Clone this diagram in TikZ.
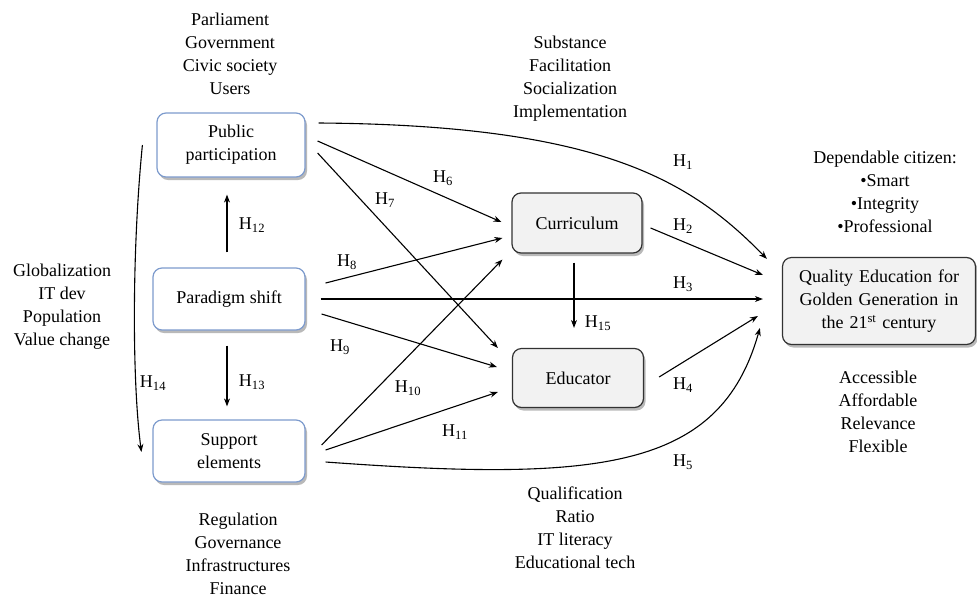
\documentclass[tikz,border=0pt]{standalone}
\usepackage{fontspec}
\setmainfont{Liberation Serif}
\usetikzlibrary{arrows.meta,shadows,calc}
\definecolor{bluebd}{RGB}{125,155,205}
\definecolor{grayfill}{RGB}{242,242,242}
\definecolor{graybd}{RGB}{50,50,50}
\begin{document}
\begin{tikzpicture}[x=1pt,y=-1pt,
  txt/.style={font=\fontsize{18}{23}\selectfont, align=center, inner sep=0pt},
  bbox/.style={draw=bluebd, line width=1.2pt, fill=white, rounded corners=9pt,
    align=center, font=\fontsize{18}{23}\selectfont, inner sep=2pt,
    drop shadow={shadow xshift=2pt, shadow yshift=-3pt, fill=black!50, opacity=0.55}},
  gbox/.style={draw=graybd, line width=1.2pt, fill=grayfill, rounded corners=9pt,
    align=center, font=\fontsize{18}{23}\selectfont, inner sep=2pt,
    drop shadow={shadow xshift=2pt, shadow yshift=-3pt, fill=black!50, opacity=0.55}},
  arr/.style={-{Stealth[length=8pt,width=6pt]}, line width=1.1pt},
  hl/.style={font=\fontsize{18}{23}\selectfont, inner sep=0pt}
]
\useasboundingbox (0,0) rectangle (977,598);

% boxes
\node[bbox, minimum width=148, minimum height=64] (pp) at (231,145) {Public\\participation};
\node[bbox, minimum width=152, minimum height=62] (ps) at (229,299) {Paradigm\ shift};
\node[bbox, minimum width=152, minimum height=62] (se) at (229,451) {Support\\elements};
\node[gbox, minimum width=130, minimum height=60] (cur) at (577,223) {Curriculum};
\node[gbox, minimum width=131, minimum height=59] (edu) at (578,378) {Educator};
\node[gbox, minimum width=193, minimum height=87, text width=180] (qe) at (879,301)
  {Quality Education for\\Golden Generation in\\the 21\textsuperscript{st} century};

% text blocks
\node[txt] (t1) at (230,54) {Parliament\\Government\\Civic society\\Users};
\node[txt] (t2) at (570,79) {Substance\\Facilitation\\Socialization\\Implementation};
\node[txt] (t3) at (885,192) {Dependable citizen:\\\textbullet Smart\\\textbullet Integrity\\\textbullet Professional};
\node[txt] (t4) at (878,412) {Accessible\\Affordable\\Relevance\\Flexible};
\node[txt] (t5) at (62,307) {Globalization\\IT dev\\Population\\Value change};
\node[txt] (t6) at (575,528) {Qualification\\Ratio\\IT literacy\\Educational tech};
\node[txt] (t7) at (238,554) {Regulation\\Governance\\Infrastructures\\Finance};

% connectors
\draw[arr] ($(pp.east)+(13,-22)$) .. controls (600,125) and (690,180) .. ($(qe.north west)+(-15,2)$);
\draw[arr] ($(pp.east)+(12,-4)$) -- ($(cur.west)+(-10,-1)$);
\draw[arr] ($(pp.east)+(12,8)$) -- ($(edu.west)+(-14,-30)$);
\draw[arr] ($(ps.east)+(20,-16)$) -- ($(cur.west)+(-9,15)$);
\coordinate (h3end) at ($(qe.west)+(-19,0)$);
\draw[arr] ($(ps.east)+(15,0)$) -- (h3end |- ps.east);
\draw[arr] ($(ps.east)+(16,15)$) -- ($(edu.west)+(-15,-11)$);
\draw[arr] ($(se.east)+(16,-6)$) -- ($(cur.south west)+(-9,6)$);
\draw[arr] ($(se.east)+(20,-1)$) -- ($(edu.west)+(-14,14)$);
\draw[arr] ($(se.east)+(20,11)$) .. controls (600,482) and (720,470) .. ($(qe.west)+(-22,27)$);
\draw[arr] ($(cur.east)+(8,5)$) -- ($(qe.west)+(-19,-26)$);
\draw[arr] ($(edu.east)+(15,-1)$) -- ($(qe.west)+(-24,15)$);
\draw[arr] ($(cur.south)+(-3,9)$) -- ($(edu.north)+(-4,-20)$);
\draw[arr] ($(ps.north)+(-2,-15)$) -- ($(pp.south)+(-4,17)$);
\draw[arr] ($(ps.south)+(-2,15)$) -- ($(se.north)+(-2,-13)$);
\draw[arr] ($(pp.west)+(-14,0)$) .. controls (132,250) and (132,380) .. ($(se.west)+(-11,1)$);

% labels
\node[hl] (l1) at (683,162) {H\textsubscript{1}};
\node[hl] (l2) at (683,226) {H\textsubscript{2}};
\node[hl] (l3) at (683,284) {H\textsubscript{3}};
\node[hl] (l4) at (683,385) {H\textsubscript{4}};
\node[hl] (l5) at (683,462) {H\textsubscript{5}};
\node[hl] (l6) at (443,178) {H\textsubscript{6}};
\node[hl] (l7) at (385,200) {H\textsubscript{7}};
\node[hl] (l8) at (347,262) {H\textsubscript{8}};
\node[hl] (l9) at (340,347) {H\textsubscript{9}};
\node[hl] (l10) at (408,388) {H\textsubscript{10}};
\node[hl] (l11) at (455,432) {H\textsubscript{11}};
\node[hl] (l12) at (252,225) {H\textsubscript{12}};
\node[hl] (l13) at (252,382) {H\textsubscript{13}};
\node[hl] (l14) at (153,383) {H\textsubscript{14}};
\node[hl] (l15) at (598,323) {H\textsubscript{15}};
\end{tikzpicture}
\end{document}
